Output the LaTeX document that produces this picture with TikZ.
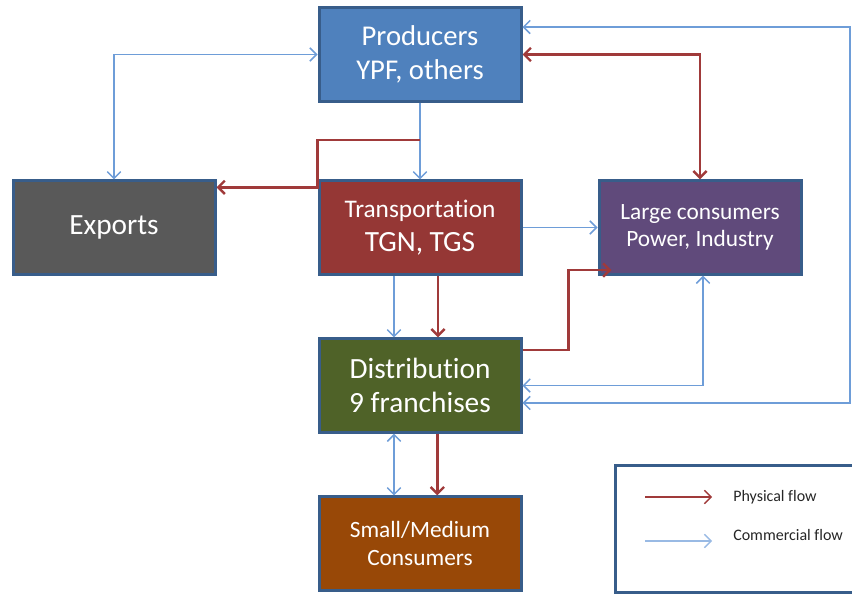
\documentclass[tikz,border=0pt]{standalone}
\usepackage{fontspec}
\setmainfont{Carlito}[Ligatures=NoCommon]
\usetikzlibrary{arrows.meta,positioning,calc}

\definecolor{boxline}{HTML}{385D8A}
\definecolor{prodblue}{HTML}{4F81BD}
\definecolor{expgray}{HTML}{595959}
\definecolor{transred}{HTML}{953735}
\definecolor{largeviolet}{HTML}{604A7B}
\definecolor{distgreen}{HTML}{4F6228}
\definecolor{smallbrown}{HTML}{984807}
\definecolor{physred}{HTML}{A03A3A}
\definecolor{commblue}{HTML}{6E9DD8}

\begin{document}
\begin{tikzpicture}[x=0.75pt,y=-0.75pt,>={Straight Barb[length=5pt,width=10pt]},
                    node distance=118.5pt,
                    box/.style={draw=boxline,line width=2.25pt,minimum width=151.5pt,
                                minimum height=70pt,inner sep=0pt,align=center,text=white},
                    phys/.style={draw=physred,line width=1.8pt},
                    comm/.style={draw=commblue,line width=1.1pt},
                    legtext/.style={anchor=west,inner sep=0pt,text=black!85,
                                    font=\fontsize{12}{14}\selectfont}]

  \useasboundingbox (0,0) rectangle (852,593);

  \node[box,fill=prodblue,font=\fontsize{21.5}{26}\selectfont] (prod) at (420,54.5)
        {Producers\\YPF, others};
  \node[box,fill=transred,font=\fontsize{22}{25.5}\selectfont] (trans)
        [below of=prod,node distance=129.75pt]
        {{\fontsize{19}{25.5}\selectfont Transportation}\\TGN, TGS};
  \node[box,fill=expgray,font=\fontsize{22}{26}\selectfont] (exp)
        [left of=trans,node distance=229.5pt] {Exports};
  \node[box,fill=largeviolet,font=\fontsize{17.5}{20.5}\selectfont] (large)
        [right of=trans,node distance=210pt] {Large consumers\\Power, Industry};
  \node[box,fill=distgreen,font=\fontsize{22}{25.5}\selectfont] (dist)
        [below of=trans] {Distribution\\9 franchises};
  \node[box,fill=smallbrown,font=\fontsize{17.5}{21.5}\selectfont] (small)
        [below of=dist] {Small/Medium\\Consumers};

  % bends
  \coordinate (split) at ($(prod.south)!0.49!(trans.north)$);
  \coordinate (rim) at (850,0);
  \coordinate (e1) at ([yshift=-6pt]trans.north west);
  \coordinate (e2) at ([yshift=-6pt]exp.north east);
  \coordinate (d1) at ([yshift=26.6pt]dist.east);
  \coordinate (l1) at ([xshift=10.5pt,yshift=-31.9pt]large.west);
  \coordinate (d2) at ([yshift=-13.1pt]dist.east);
  \coordinate (p2) at ([yshift=20.6pt]prod.east);

  \draw[comm,<->] (prod.west) -| (exp.north);
  \path[comm,->] (prod) edge (trans)
                 (trans) edge (large);
  \draw[phys,->] (split) -| (e1) -- (e2);
  \draw[phys,<->] (prod.east) -| (large.north);
  \draw[phys,->] (d1) -- ++(34.5pt,0) |- (l1);
  \draw[comm,<->] ([xshift=2.25pt]large.south) |- (dist.east);
  \draw[comm,<->] (d2) -- (d2 -| rim) |- (p2);

  \draw[comm,->] ([xshift=-19.5pt]trans.south) -- ([xshift=-19.5pt]dist.north);
  \draw[phys,->] ([xshift=13.5pt]trans.south) -- ([xshift=13.5pt]dist.north);
  \draw[comm,<->] ([xshift=-19.5pt]dist.south) -- ([xshift=-19.5pt]small.north);
  \draw[phys,->] ([xshift=13pt]dist.south) -- ([xshift=13pt]small.north);

  % legend
  \node[draw=boxline,line width=2.25pt,minimum width=190.5pt,minimum height=95.25pt,
        inner sep=0pt] (legend) at (742,528.5) {};
  \node[legtext] (physlbl) at (733,497) {Physical flow};
  \node[legtext] (commlbl) at (733,535) {Commercial flow};
  \draw[phys,->,line width=1pt] ([xshift=-66pt]physlbl.west) -- ([xshift=-15.75pt]physlbl.west);
  \draw[comm,->,draw=commblue!70,line width=1pt] ([xshift=-66pt,yshift=-4.5pt]commlbl.west)
        -- ([xshift=-15.75pt,yshift=-4.5pt]commlbl.west);
\end{tikzpicture}
\end{document}
